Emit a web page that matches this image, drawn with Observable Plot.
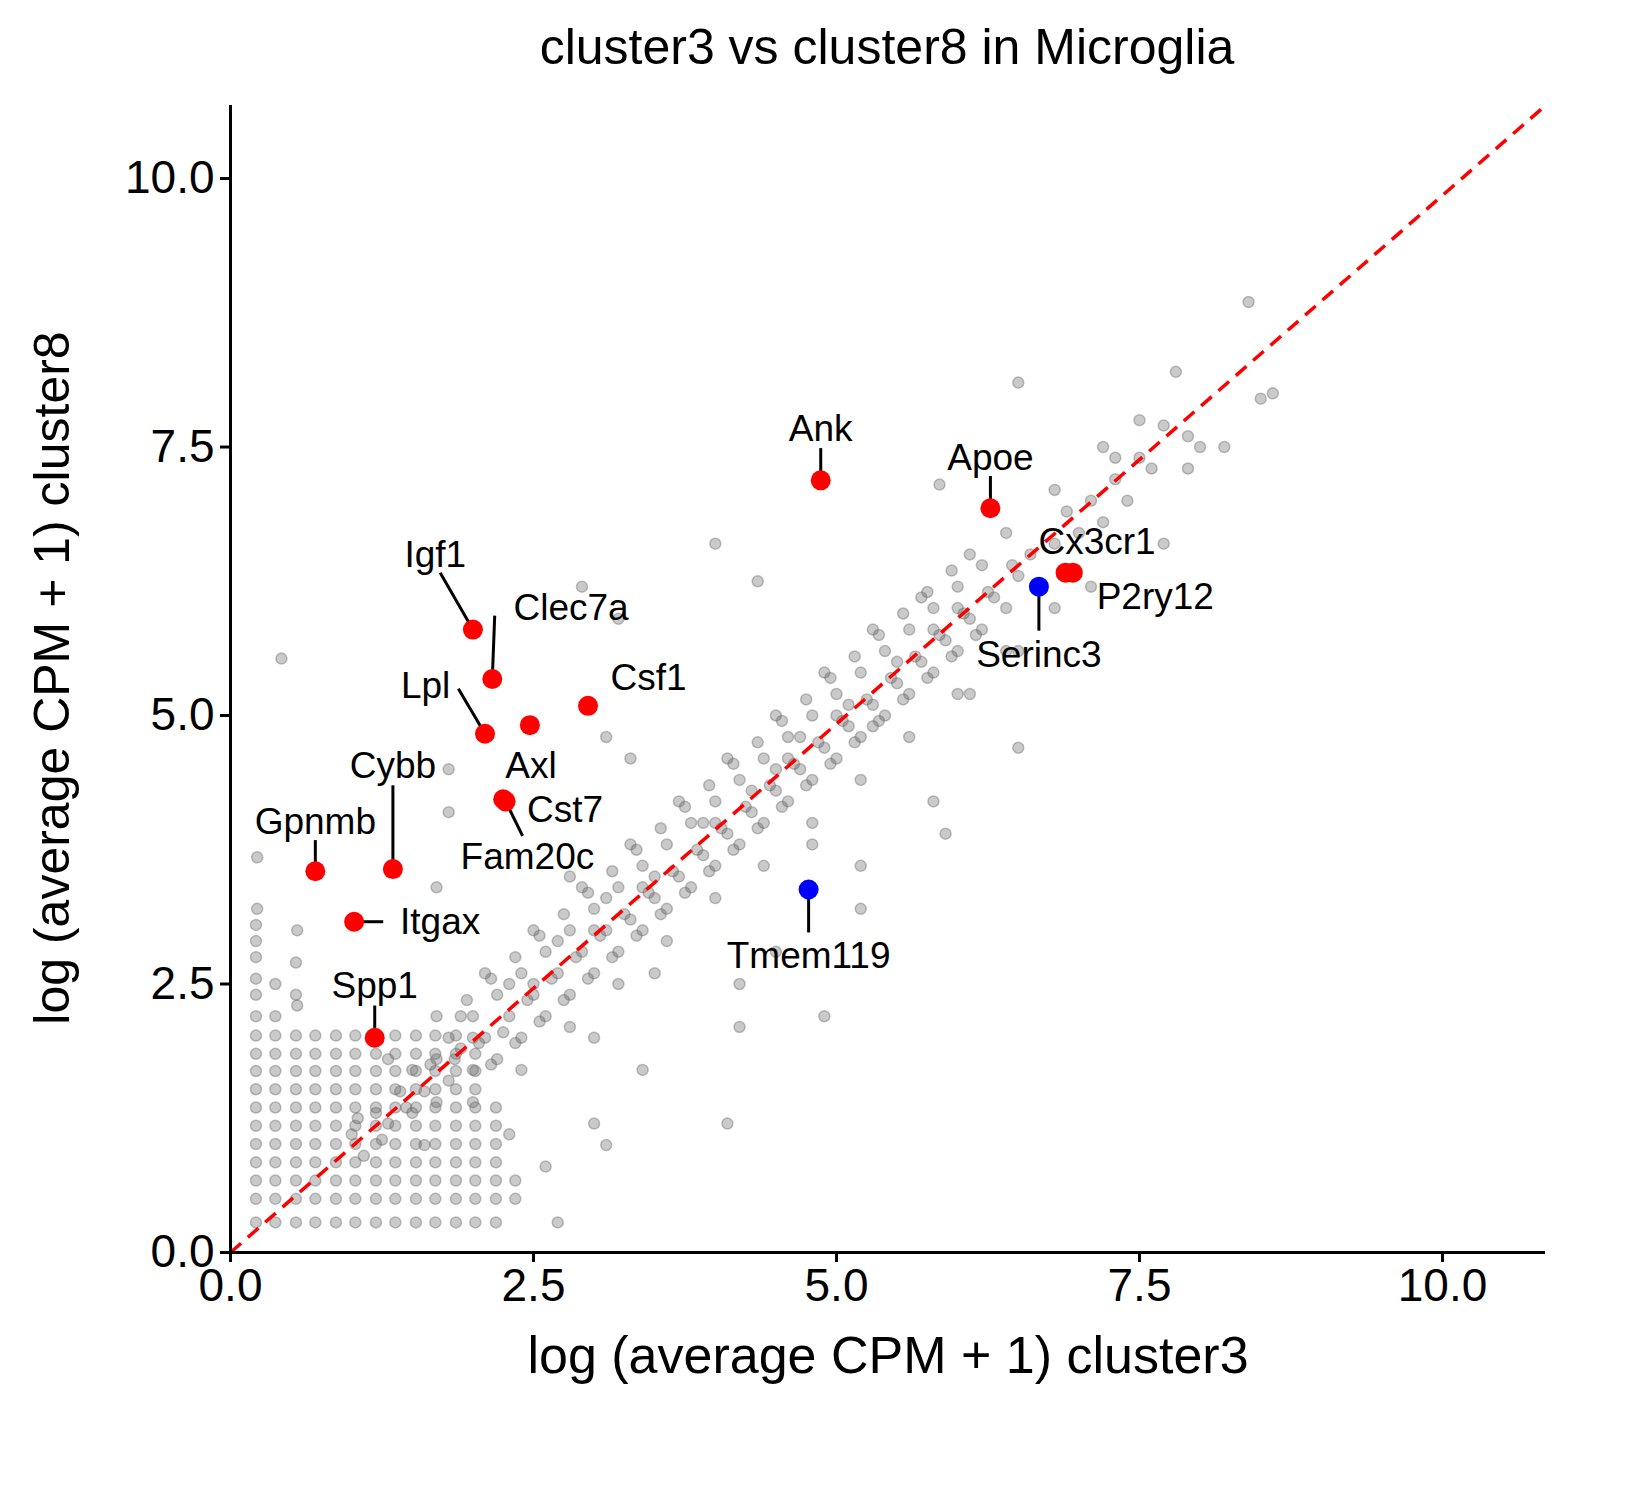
<!DOCTYPE html>
<html><head><meta charset="utf-8">
<script src="https://cdn.jsdelivr.net/npm/d3@7"></script>
<script src="https://cdn.jsdelivr.net/npm/@observablehq/plot@0.6"></script>
<style>body{margin:0;background:#fff;font-family:"Liberation Sans",Arial,sans-serif}
#wrap{position:relative;width:1560px}
#t{width:1560px;height:100px;position:relative}
#t span{position:absolute;left:887px;top:18px;transform:translateX(-50%);font-size:50px;white-space:nowrap}
#yl{position:absolute;left:52px;top:678px;transform:translate(-50%,-50%) rotate(-90deg);font-size:50px;white-space:nowrap}</style>
</head><body>
<div id="wrap">
<div id="t"><span>cluster3 vs cluster8 in Microglia</span></div>
<div id="yl">log (average CPM + 1) cluster8</div>
<div id="c"></div>
</div>
<script>
const genes=["Ank","Apoe","Cx3cr1","P2ry12","Serinc3","Tmem119","Igf1","Clec7a","Lpl","Axl","Csf1","Cst7","Fam20c","Cybb","Gpnmb","Itgax","Spp1"];
const geneX=[4.87,6.27,6.89,6.95,6.67,4.77,2.0,2.16,2.10,2.47,2.95,2.25,2.27,1.34,0.70,1.02,1.19];
const geneY=[7.19,6.93,6.33,6.33,6.20,3.38,5.80,5.34,4.83,4.91,5.09,4.22,4.20,3.57,3.55,3.08,2.0];
const geneDir=["up","up","up","up","down","down","up","up","up","up","up","up","up","up","up","up","up"];
const labelX=[4.87,6.27,7.15,7.63,6.67,4.77,1.69,2.81,1.61,2.48,3.45,2.76,2.45,1.34,0.70,1.73,1.19];
const labelY=[7.67,7.40,6.61,6.10,5.56,2.76,6.49,6.00,5.27,4.53,5.35,4.12,3.68,4.53,4.01,3.08,2.48];
const lineX=[4.87,6.27,null,null,6.67,4.77,1.73,2.18,1.88,null,null,null,2.41,1.34,0.70,1.26,1.19];
const lineY=[7.49,7.23,null,null,5.79,2.98,6.33,5.93,5.25,null,null,null,3.88,4.35,3.84,3.08,2.30];
const gridXLevels=[0.21,0.37,0.54,0.70,0.87,1.03,1.20,1.36,1.53,1.69,1.86,2.02,2.19,2.35,2.52];
const gridYLevels=[0.28,0.50,0.67,0.84,1.01,1.18,1.35,1.52,1.69,1.85,2.02];
const gridRowEnd=[12,13,13,12,12,12,12,11,11,11,10];
const bandPairs=[1.0,1.1,1.1,0.9,1.2,1.3,1.3,1.2,1.4,1.5,1.5,1.3,1.5,1.7,1.6,1.5,1.7,1.8,1.7,1.4,1.8,1.6,1.8,2.0,1.9,1.9,2.0,1.7,2.0,2.2,2.1,2.0,2.2,1.8,2.2,2.4,2.3,2.2,2.4,2.0,2.4,2.6,2.5,2.4,2.6,2.2,2.6,2.8,2.7,2.6,2.8,2.4,2.8,3.0,2.9,2.8,3.0,2.6,3.0,3.2,3.1,3.0,3.2,2.8,3.2,3.4,3.3,3.1,3.4,3.0,3.4,3.6,3.5,3.3,3.6,3.2,3.6,3.8,3.7,3.5,3.8,3.4,3.8,4.0,3.9,3.7,4.0,3.6,4.0,4.2,4.1,3.9,4.2,3.8,4.2,4.4,4.3,4.1,4.4,4.0,4.4,4.6,4.5,4.3,4.6,4.2,4.6,4.8,4.7,4.5,4.8,4.4,4.8,5.0,4.9,4.7,5.0,4.6,5.0,5.2,5.1,4.9,5.2,4.8,5.2,5.4,5.3,5.1,5.4,5.0,5.4,5.6,5.5,5.3,5.6,5.2,5.6,5.8,5.7,5.5,5.8,5.4,5.8,6.0,5.9,5.7,6.0,5.6,6.0,6.2,6.1,5.9,6.2,5.8,6.2,6.4,6.3,6.1,6.4,6.0,6.5,6.3,6.6,6.5,6.7,6.2,6.8,6.6,6.9,6.9,7.0,6.7,7.1,7.0,7.2,6.8,7.3,7.2,7.4,7.0,7.5,7.4,7.6,7.3,7.7,7.7,7.9,7.6,8.0,7.5,7.2,7.5,6.8,7.1,6.4,6.7,6.1,6.5,5.7,6.1,5.3,5.8,4.9,5.4,4.5,5.0,4.1,4.6,3.7,4.2,3.3,3.8,2.9,3.4,2.5,3.0,2.1,2.6,1.7,2.2,1.3,1.8,1.6,1.0,2.0,1.4,2.4,1.7,2.8,2.1,3.2,2.5,3.6,2.9,4.0,3.3,4.4,3.6,4.8,4.0,5.2,4.4,5.6,4.8,6.0,5.2,6.4,5.6,6.8,6.0,3.5,3.5,4.5,4.5,5.5,5.5,2.5,2.5,3.9,4.0,4.3,4.3,4.7,4.8,5.1,5.1,2.7,2.9,3.1,3.3,2.3,2.5,1.9,2.2,3.0,3.0,4.0,4.0,5.0,5.0,6.0,6.0,2.0,2.0,3.4,3.4,4.6,4.6,5.8,5.8,
1.05,1.25,1.25,1.05,1.45,1.35,1.65,1.75,1.85,1.8,2.05,1.95,2.25,2.05,2.45,2.35,2.65,2.55,2.85,2.75,3.05,2.95,3.25,3.15,3.45,3.35,3.65,3.55,3.85,3.75,4.05,3.95,4.25,4.15,4.45,4.35,4.65,4.55,4.85,4.75,5.05,4.95,5.25,5.15,5.45,5.35,5.65,5.55,5.85,5.75,6.05,5.95,6.25,6.15,6.45,6.4,1.95,2.35,2.15,2.55,2.35,2.75,2.55,2.95,2.75,3.15,2.95,3.35,3.15,3.55,3.35,3.75,3.55,3.95,3.75,4.15,3.95,4.35,4.15,4.55,4.35,4.75,4.55,4.95,4.75,5.15,4.95,5.35,5.15,5.55,5.35,5.75,5.55,5.95,5.75,6.15,5.95,6.35,2.15,1.75,2.35,1.95,2.55,2.15,2.75,2.35,2.95,2.55,3.15,2.75,3.35,2.95,3.55,3.15,3.75,3.35,3.95,3.55,4.15,3.75,4.35,3.95,4.55,4.15,4.75,4.35,4.95,4.55,5.15,4.75,5.35,4.95,5.55,5.15,5.75,5.35,5.95,5.55,6.15,5.75];
const outlierPairs=[0.42,5.53,0.22,3.68,0.22,3.2,0.55,3.0,1.8,4.5,2.9,6.2,3.2,5.9,4.0,6.6,4.35,6.25,5.85,7.15,6.5,8.1,8.4,8.85,7.8,8.2,7.5,7.75,8.5,7.95,8.2,7.5,7.1,6.2,7.7,6.6,6.5,5.6,6.5,4.7,6.1,5.2,5.3,4.9,5.8,4.2,5.9,3.9,4.5,2.8,4.9,2.2,4.2,2.5,4.1,1.2,3.1,1.0,3.0,1.2,3.4,1.7,2.7,0.28,2.6,0.8,2.3,1.1,3.0,2.0,3.5,2.6,2.8,3.5,3.3,4.6,3.1,4.8,1.7,3.4,0.55,2.3,1.8,4.1,4.2,2.1,5.2,3.2,5.2,3.6,4.8,3.8,0.21,2.2,0.21,2.4,0.21,2.55,0.21,2.75,0.21,2.9,0.21,3.05,0.37,2.2,0.54,2.4,0.54,2.7,0.37,2.5,8.6,8.0,7.3,7.4,7.9,7.3];

const gray=[];
gridYLevels.forEach((y,j)=>{for(let i=0;i<=gridRowEnd[j];i++)gray.push({x:gridXLevels[i],y});});
for(const arr of [bandPairs,outlierPairs])for(let k=0;k<arr.length;k+=2)gray.push({x:arr[k],y:arr[k+1]});
const hl=genes.map((g,i)=>({g,x:geneX[i],y:geneY[i],dir:geneDir[i],lx:labelX[i],ly:labelY[i],ex:lineX[i],ey:lineY[i]}));
const links=hl.filter(d=>d.ex!=null);

const chart=Plot.plot({
  width:1560,height:1312,marginTop:5,marginLeft:230,marginRight:15,marginBottom:160,
  style:{fontFamily:"Liberation Sans, Arial, sans-serif",background:"#fff",color:"#000",overflow:"visible"},
  x:{domain:[0,10.85]},y:{domain:[0,10.68]},
  marks:[
    Plot.dot(gray,{x:"x",y:"y",r:5.5,fill:"#666",fillOpacity:0.35,stroke:"#666",strokeOpacity:0.4,strokeWidth:1.5}),
    Plot.link([0],{x1:()=>0,y1:()=>0,x2:()=>10.85,y2:()=>10.68,stroke:"#ff0000",strokeWidth:3.5,strokeDasharray:"14,9"}),
    Plot.link(links,{x1:"x",y1:"y",x2:"ex",y2:"ey",stroke:"#000",strokeWidth:3}),
    Plot.dot(hl,{x:"x",y:"y",r:10,fill:d=>d.dir==="up"?"#ff0000":"#0000ff"}),
    Plot.text(hl,{x:"lx",y:"ly",text:"g",fontSize:37,fill:"#000",textAnchor:d=>d.g==="Itgax"?"start":"middle"}),
    Plot.ruleX([0],{stroke:"#000",strokeWidth:3}),
    Plot.ruleY([0],{stroke:"#000",strokeWidth:3}),
    Plot.axisX({ticks:[0,2.5,5,7.5,10],tickFormat:".1f",fontSize:46,tickSize:10,tickPadding:6,strokeWidth:3,label:null}),
    Plot.axisY({ticks:[0,2.5,5,7.5,10],tickFormat:".1f",fontSize:46,tickSize:10,tickPadding:6,strokeWidth:3,label:null}),
    Plot.text(["log (average CPM + 1) cluster3"],{frameAnchor:"bottom",dy:120,fontSize:52,fill:"#000"})
  ]
});
document.getElementById("c").appendChild(chart);
</script></body></html>
